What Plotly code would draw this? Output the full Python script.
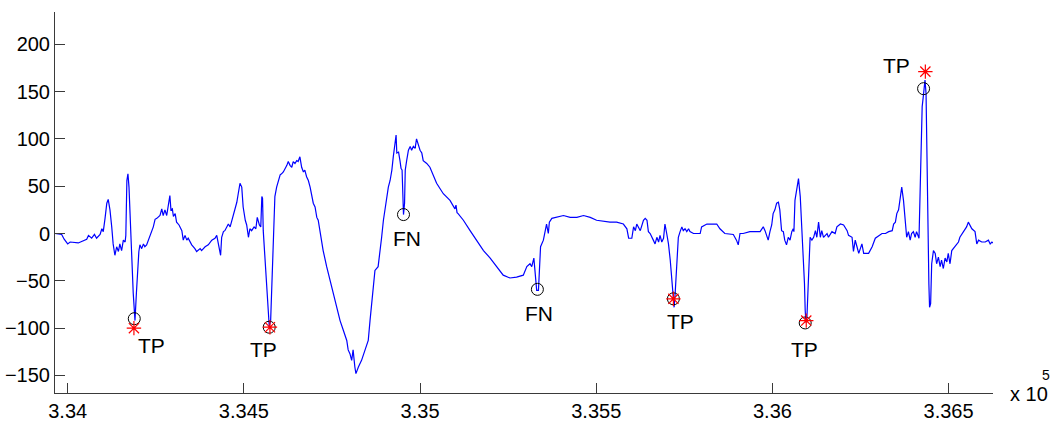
import plotly.graph_objects as go

# ECG signal (sample index, amplitude)
sig_x = [333964, 333983, 333990, 334000, 334007, 334030, 334054, 334059, 334068, 334076,
         334082, 334092, 334097, 334101, 334106, 334111, 334115, 334120, 334125, 334129,
         334134, 334139, 334144, 334148, 334153, 334158, 334163, 334165, 334168, 334171,
         334174, 334180, 334183, 334186, 334189, 334191, 334195, 334199, 334202, 334205,
         334210, 334215, 334219, 334224, 334227, 334234, 334243, 334248, 334253, 334262,
         334267, 334271, 334276, 334281, 334285, 334290, 334293, 334297, 334300, 334305,
         334309, 334316, 334324, 334328, 334333, 334338, 334342, 334347, 334352, 334361,
         334366, 334376, 334380, 334390, 334399, 334409, 334418, 334423, 334426, 334429,
         334434, 334437, 334442, 334446, 334451, 334456, 334461, 334465, 334470, 334475,
         334480, 334484, 334489, 334494, 334498,
         334504, 334508, 334513, 334517, 334522, 334529, 334534, 334538, 334544, 334548,
         334551, 334553, 334555, 334560, 334565, 334569, 334572, 334576, 334579, 334584,
         334588, 334593, 334598, 334603, 334607, 334612, 334622, 334626, 334631, 334636,
         334640, 334645, 334650, 334654, 334659, 334664, 334669, 334673, 334678, 334683,
         334688, 334692, 334697, 334702, 334707, 334711, 334716, 334725, 334735, 334744,
         334754, 334763, 334773, 334782, 334792, 334796, 334801, 334806, 334810, 334815,
         334818, 334825, 334834, 334844, 334853, 334858, 334863, 334867, 334872, 334881,
         334886, 334891, 334896, 334901, 334905, 334910, 334915, 334920, 334924, 334929,
         334932, 334934, 334939, 334943, 334946, 334949, 334951, 334953, 334956, 334958,
         334962, 334967, 334972, 334976, 334981, 334986, 334990, 334995, 335000, 335005,
         335009, 335019, 335028,
         335047, 335066, 335085, 335099, 335102, 335105, 335108, 335123, 335142, 335161,
         335180, 335199, 335218, 335236, 335255, 335274, 335293, 335303, 335312, 335317,
         335323, 335326, 335331, 335336, 335339, 335342, 335350, 335355, 335359, 335364,
         335367, 335374, 335388, 335407, 335426, 335445, 335464, 335483, 335501, 335520,
         335539, 335558, 335577, 335587, 335592, 335601, 335606, 335611, 335615, 335625,
         335634, 335639, 335644, 335648, 335653, 335662, 335667, 335672, 335677, 335681,
         335686, 335691, 335695, 335700, 335705, 335710, 335715, 335719, 335721, 335724,
         335729, 335733, 335738, 335743, 335747, 335752, 335757, 335762, 335766, 335776,
         335795, 335799, 335814, 335842, 335851, 335865, 335889, 335898, 335903, 335908,
         335917, 335936, 335965, 335974, 335979, 335983, 335988, 335993, 335998, 336002,
         336007, 336012, 336017, 336021, 336026, 336031, 336035, 336040, 336045, 336050,
         336055, 336059, 336061, 336064, 336069, 336074, 336079, 336083, 336088, 336091,
         336093, 336095, 336098, 336101, 336105, 336107, 336112, 336117, 336122, 336126,
         336131, 336136, 336140, 336145, 336155, 336159, 336169, 336178, 336183, 336193,
         336202, 336212, 336216, 336226, 336230, 336235, 336240, 336245, 336254, 336259,
         336273, 336283, 336292, 336302, 336311, 336321, 336330, 336340, 336344, 336349,
         336353, 336358, 336362, 336367, 336372, 336376, 336381, 336386, 336391, 336395,
         336400, 336405, 336409, 336416, 336419, 336422, 336425, 336428, 336431, 336433,
         336436, 336438, 336442, 336444, 336446, 336449, 336452, 336457, 336462, 336466,
         336471, 336476, 336480, 336485, 336490, 336495, 336499, 336504, 336509, 336518,
         336528, 336532, 336542, 336551, 336556, 336561, 336566, 336575, 336580, 336585,
         336594, 336604, 336613, 336618, 336623, 336626]

sig_y = [0, -1, -6, -11, -9, -10, -6, -2, -5, -1,
         -5, -1, 5, 2, 16, 32, 36, 25, 7, -11,
         -23, -14, -19, -11, -18, -7, -9, -2, 56, 63,
         49, 3, -35, -63, -88, -92, -63, -35, -19, -12,
         -16, -11, -14, -12, -9, -2, 7, 15, 16, 19,
         26, 19, 25, 19, 28, 40, 25, 26, 18, 21,
         12, 9, 3, -7, -2, -7, -5, -9, -12, -16,
         -19, -16, -18, -14, -12, -7, -5, -2, -7, -12,
         -23, -4, 2, 3, 7, 10, 7, 12, 19, 25,
         33, 42, 53, 49, 28,
         14, 9, -4, 5, 3, 7, 5, 17, 9, 7,
         39, 37, 3, -28, -49, -78, -98, -92, -63, -4,
         39, 49, 55, 62, 63, 65, 72, 76, 72, 70,
         76, 74, 77, 76, 81, 70, 65, 67, 60, 56,
         49, 42, 32, 28, 17, 14, 3, -18, -35, -49,
         -63, -78, -92, -102, -113, -123, -127, -134, -123, -141,
         -148, -141, -134, -123, -113, -92, -70, -56, -39, -35,
         -21, -4, 14, 28, 35, 49, 56, 67, 81, 99,
         104, 85, 86, 77, 69, 67, 25, 20, 32, 67,
         77, 88, 92, 88, 92, 90, 100, 93, 88, 85,
         77, 74, 70,
         53, 42, 35, 26, 30, 22, 21, 14, 3, -7,
         -18, -26, -35, -44, -47, -46, -44, -35, -32, -35,
         -26, -42, -60, -60, -35, -14, -7, 3, 10, 0,
         12, 16, 17, 19, 17, 17, 19, 17, 14, 13,
         12, 12, 10, 5, -5, -5, 7, 3, 10, 3,
         14, 16, 14, 2, 0, -7, -11, -4, -9, -2,
         -9, -5, 10, 0, -11, -28, -49, -69, -78, -63,
         -35, -4, 2, 7, 3, 5, 2, 5, 2, 0,
         0, 7, 10, 10, 5, 0, -1, -7, -12, 0,
         0, 2, 2, 7, 3, -2, -7, 2, 9, 21,
         25, 32, 33, 25, 3, 2, -7, -12, -4, -7,
         2, 5, 2, 35, 45, 58, 39, 10, -18, -53,
         -81, -94, -88, -53, -25, -4, -7, -4, 3, -4,
         12, -4, 3, -4, 0, -4, 2, 0, 7, 10,
         9, 3, -2, -4, -19, -7, -14, -21, -11, -21,
         -21, -14, -5, -2, 0, 0, 2, 3, 10, 12,
         21, 25, 39, 49, 35, 14, -4, 2, -7, 0,
         2, -4, 2, -5, 53, 109, 134, 144, 155, 162,
         148, 88, 17, -53, -78, -74, -32, -18, -21, -32,
         -25, -35, -28, -37, -26, -30, -21, -32, -18, -14,
         -9, -4, 2, 7, 12, 9, 5, 2, -11, -7,
         -9, -9, -7, -11, -9, -10]

# Reference annotations (black circles)
ref_x = [334189, 334572, 334953, 335333, 335719, 336093, 336429]
ref_y = [-90, -99, 20, -59, -69, -94.5, 153]

# Detections (red stars)
det_x = [334188, 334574, 335719, 336096, 336434]
det_y = [-100, -99, -69, -92, 171]

# Labels
lab_text = ["TP", "TP", "FN", "FN", "TP", "TP", "TP"]
lab_x = [334238, 334555, 334964, 335338, 335740, 336090, 336353]
lab_y = [-118, -123, -5, -84, -93, -123, 178]

x_ticks = [334000, 334500, 335000, 335500, 336000, 336500]
x_ticktext = ["3.34", "3.345", "3.35", "3.355", "3.36", "3.365"]
y_ticks = [-150, -100, -50, 0, 50, 100, 150, 200]

FONT = "Liberation Sans, Arial, Helvetica, sans-serif"

fig = go.Figure()
fig.add_trace(go.Scatter(x=sig_x, y=sig_y, mode="lines",
                         line=dict(color="#0000ff", width=1.2)))
fig.add_trace(go.Scatter(x=ref_x, y=ref_y, mode="markers",
                         marker=dict(symbol="circle-open", size=12,
                                     color="black", line=dict(width=1, color="black"))))
fig.add_trace(go.Scatter(x=det_x, y=det_y, mode="markers",
                         marker=dict(symbol="asterisk-open", size=12,
                                     color="red", line=dict(width=1.2, color="red"))))

for t, x, y in zip(lab_text, lab_x, lab_y):
    fig.add_annotation(x=x, y=y, text=t, showarrow=False, xanchor="center",
                       yanchor="middle", font=dict(size=21, color="black", family=FONT))

fig.add_annotation(xref="paper", yref="paper", x=1.0384, y=-0.003, text="x 10",
                   showarrow=False, xanchor="center", yanchor="middle",
                   font=dict(size=20, color="black", family=FONT))
fig.add_annotation(xref="paper", yref="paper", x=1.057, y=0.046, text="5",
                   showarrow=False, xanchor="center", yanchor="middle",
                   font=dict(size=14, color="black", family=FONT))

axis_common = dict(showgrid=False, zeroline=False, showline=True, linecolor="#3a3a3a",
                   linewidth=1, ticks="inside", ticklen=10, tickcolor="#3a3a3a",
                   tickfont=dict(size=20, color="black", family=FONT), mirror=False,
                   automargin=False)

fig.update_layout(
    width=1054, height=421,
    margin=dict(l=55, r=61, t=12, b=28),
    plot_bgcolor="white", paper_bgcolor="white",
    showlegend=False,
    xaxis=dict(range=[333964, 336626], tickvals=x_ticks, ticktext=x_ticktext, **axis_common),
    yaxis=dict(range=[-168.5, 234], tickvals=y_ticks, **axis_common),
)

fig.write_html("out.html",
               config={"displayModeBar": False},
               post_script="document.body.style.margin='0';document.body.style.overflow='hidden';")
